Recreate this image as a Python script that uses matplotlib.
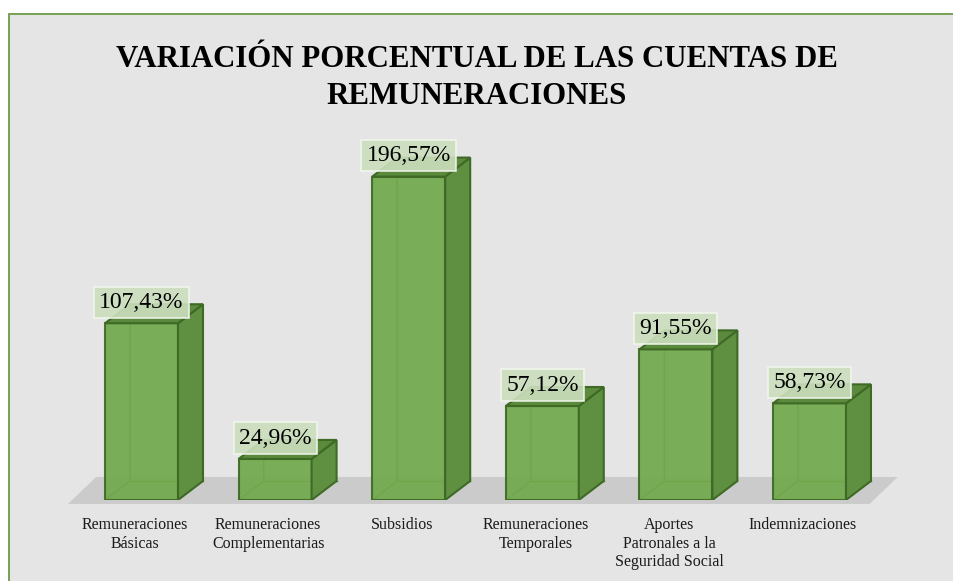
import matplotlib.pyplot as plt
from matplotlib.patches import Polygon, Rectangle

categories = ["Remuneraciones\nBásicas", "Remuneraciones\nComplementarias", "Subsidios",
              "Remuneraciones\nTemporales", "Aportes\nPatronales a la\nSeguridad Social",
              "Indemnizaciones"]
values = [107.43, 24.96, 196.57, 57.12, 91.55, 58.73]
value_labels = ["107,43%", "24,96%", "196,57%", "57,12%", "91,55%", "58,73%"]
title = "VARIACIÓN PORCENTUAL DE LAS CUENTAS DE\nREMUNERACIONES"

plt.rcParams['font.family'] = ['Liberation Serif', 'DejaVu Serif']

W, H = 954, 581
fig = plt.figure(figsize=(W / 100, H / 100), dpi=100)
fig.patch.set_facecolor('white')

# chart area with green border
fig.patches.append(Rectangle((9 / W, -0.05), 1.0, 1.05 - 14 / H, transform=fig.transFigure,
                             facecolor='#E5E5E5', edgecolor='#6B9B47', lw=1.3, zorder=-5))

fig.text(0.5, 1 - 78 / H, title, ha='center', va='center', fontsize=22.2, fontweight='bold',
         linespacing=1.38, color='black')

ax = fig.add_axes([40 / W, 81 / H, 880 / W, 360 / H])
ax.set_zorder(2)
ax.patch.set_visible(False)
ax.set_xlim(-0.760, 5.827)
ax.set_ylim(0, 218.8)
ax.axis('off')

# 3d look
w = 0.546
dx = 0.187
dy = 11.55
n = len(values)

# floor
fx0, fx1 = -0.55, n - 1 + 0.45
fy0, fy1 = -2.4, 14.0
fdx = 0.21
ax.add_patch(Polygon([(fx0, fy0), (fx1, fy0), (fx1 + fdx, fy1), (fx0 + fdx, fy1)],
                     closed=True, facecolor='#CBCBCB', edgecolor='none', zorder=1, clip_on=False))

edge = '#3E6A25'
for i, v in enumerate(values):
    l, r = i - w / 2, i + w / 2
    # hidden edges
    ax.plot([l, l + dx, l + dx], [0, dy, v + dy], color='#4F8232', lw=1.0, zorder=2)
    ax.plot([l + dx, r + dx], [dy, dy], color='#4F8232', lw=1.0, zorder=2)
    # front
    ax.add_patch(Polygon([(l, 0), (r, 0), (r, v), (l, v)], closed=True, facecolor='#72A94C',
                         edgecolor=edge, lw=1.5, alpha=0.93, zorder=3))
    # side
    ax.add_patch(Polygon([(r, 0), (r + dx, dy), (r + dx, v + dy), (r, v)], closed=True,
                         facecolor='#5F8F41', edgecolor=edge, lw=1.5, zorder=3))
    # top
    ax.add_patch(Polygon([(l, v), (r, v), (r + dx, v + dy), (l + dx, v + dy)], closed=True,
                         facecolor='#5B8A3C', edgecolor=edge, lw=1.5, zorder=3))
    ax.annotate(value_labels[i], xy=(i, v), xytext=(0, 15), textcoords='offset points',
                ha='center', va='center', fontsize=17, color='black', zorder=5,
                annotation_clip=False,
                bbox=dict(boxstyle='square,pad=0.22', facecolor='#CCDFBE', edgecolor='#F2F7EE',
                          lw=1.2, alpha=0.9))
    ax.annotate(categories[i], xy=(i, 0), xytext=(-5, -12.5), textcoords='offset points',
                ha='center', va='top', fontsize=11.5, color='#1a1a1a', linespacing=1.2,
                annotation_clip=False)

fig.savefig('out.png', dpi=100)
